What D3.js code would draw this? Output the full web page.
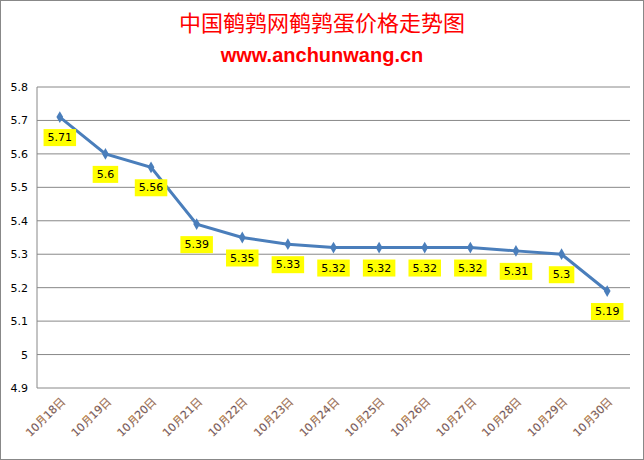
<!DOCTYPE html><html><head><meta charset="utf-8"><script src="https://d3js.org/d3.v7.min.js"></script>
<style>body{margin:0}svg{display:block}</style></head><body><svg id="c" width="644" height="460"></svg><script>
const categories=["10月18日","10月19日","10月20日","10月21日","10月22日","10月23日","10月24日","10月25日","10月26日","10月27日","10月28日","10月29日","10月30日"];
const values=[5.71,5.6,5.56,5.39,5.35,5.33,5.32,5.32,5.32,5.32,5.31,5.3,5.19];
const yTicks=[4.9,5,5.1,5.2,5.3,5.4,5.5,5.6,5.7,5.8];
const svg=d3.select("#c");
svg.append("rect").attr("x",0.5).attr("y",0.5).attr("width",643).attr("height",459).attr("fill","#fff").attr("stroke","#888");
const x=d3.scaleBand().domain(categories).range([37,630]);
const y=d3.scaleLinear().domain([4.9,5.8]).range([388,87]);
const f="Verdana, 'DejaVu Sans', sans-serif";
svg.selectAll(".g").data(yTicks).enter().append("line").attr("x1",37).attr("x2",630).attr("y1",d=>y(d)).attr("y2",d=>y(d)).attr("stroke","#888");
svg.append("line").attr("x1",37).attr("x2",37).attr("y1",87).attr("y2",388).attr("stroke","#888");
svg.selectAll(".yt").data(yTicks).enter().append("text").attr("x",28).attr("y",d=>y(d)+4).attr("text-anchor","end").attr("font-family",f).attr("font-size",11).text(d=>d);
svg.selectAll(".xt").data(categories).enter().append("text").attr("transform",d=>`translate(${x(d)+x.bandwidth()/2+6},402) rotate(-45)`).attr("text-anchor","end").attr("font-family",f).attr("font-size",11).attr("fill","#1f3c88").attr("stroke","#f0a030").attr("stroke-width",0.3).text(d=>d);
const cx=(d,i)=>x(categories[i])+x.bandwidth()/2;
svg.append("path").datum(values).attr("d",d3.line().x((d,i)=>cx(d,i)).y(d=>y(d))).attr("fill","none").attr("stroke","#4a7ebb").attr("stroke-width",3);
svg.selectAll(".m").data(values).enter().append("path").attr("d",d3.symbol(d3.symbolDiamond,40)).attr("transform",(d,i)=>`translate(${cx(d,i)},${y(d)})`).attr("fill","#4a7ebb");
const lg=svg.selectAll(".l").data(values).enter().append("g").attr("transform",(d,i)=>`translate(${cx(d,i)},${y(d)+20})`);
lg.append("text").attr("text-anchor","middle").attr("y",4).attr("font-family",f).attr("font-size",11).text(d=>d).each(function(){const b=this.getBBox();d3.select(this.parentNode).insert("rect","text").attr("x",b.x-4).attr("y",b.y-2).attr("width",b.width+8).attr("height",b.height+4).attr("fill","#ffff00");});
svg.append("text").attr("x",322).attr("y",31).attr("text-anchor","middle").attr("font-family","'Noto Sans CJK SC'").attr("font-size",22).attr("fill","#ff0000").text("中国鹌鹑网鹌鹑蛋价格走势图");
svg.append("text").attr("x",322).attr("y",62).attr("text-anchor","middle").attr("font-family","'Liberation Sans',Arial").attr("font-weight","bold").attr("font-size",20).attr("fill","#ff0000").text("www.anchunwang.cn");
</script></body></html>
